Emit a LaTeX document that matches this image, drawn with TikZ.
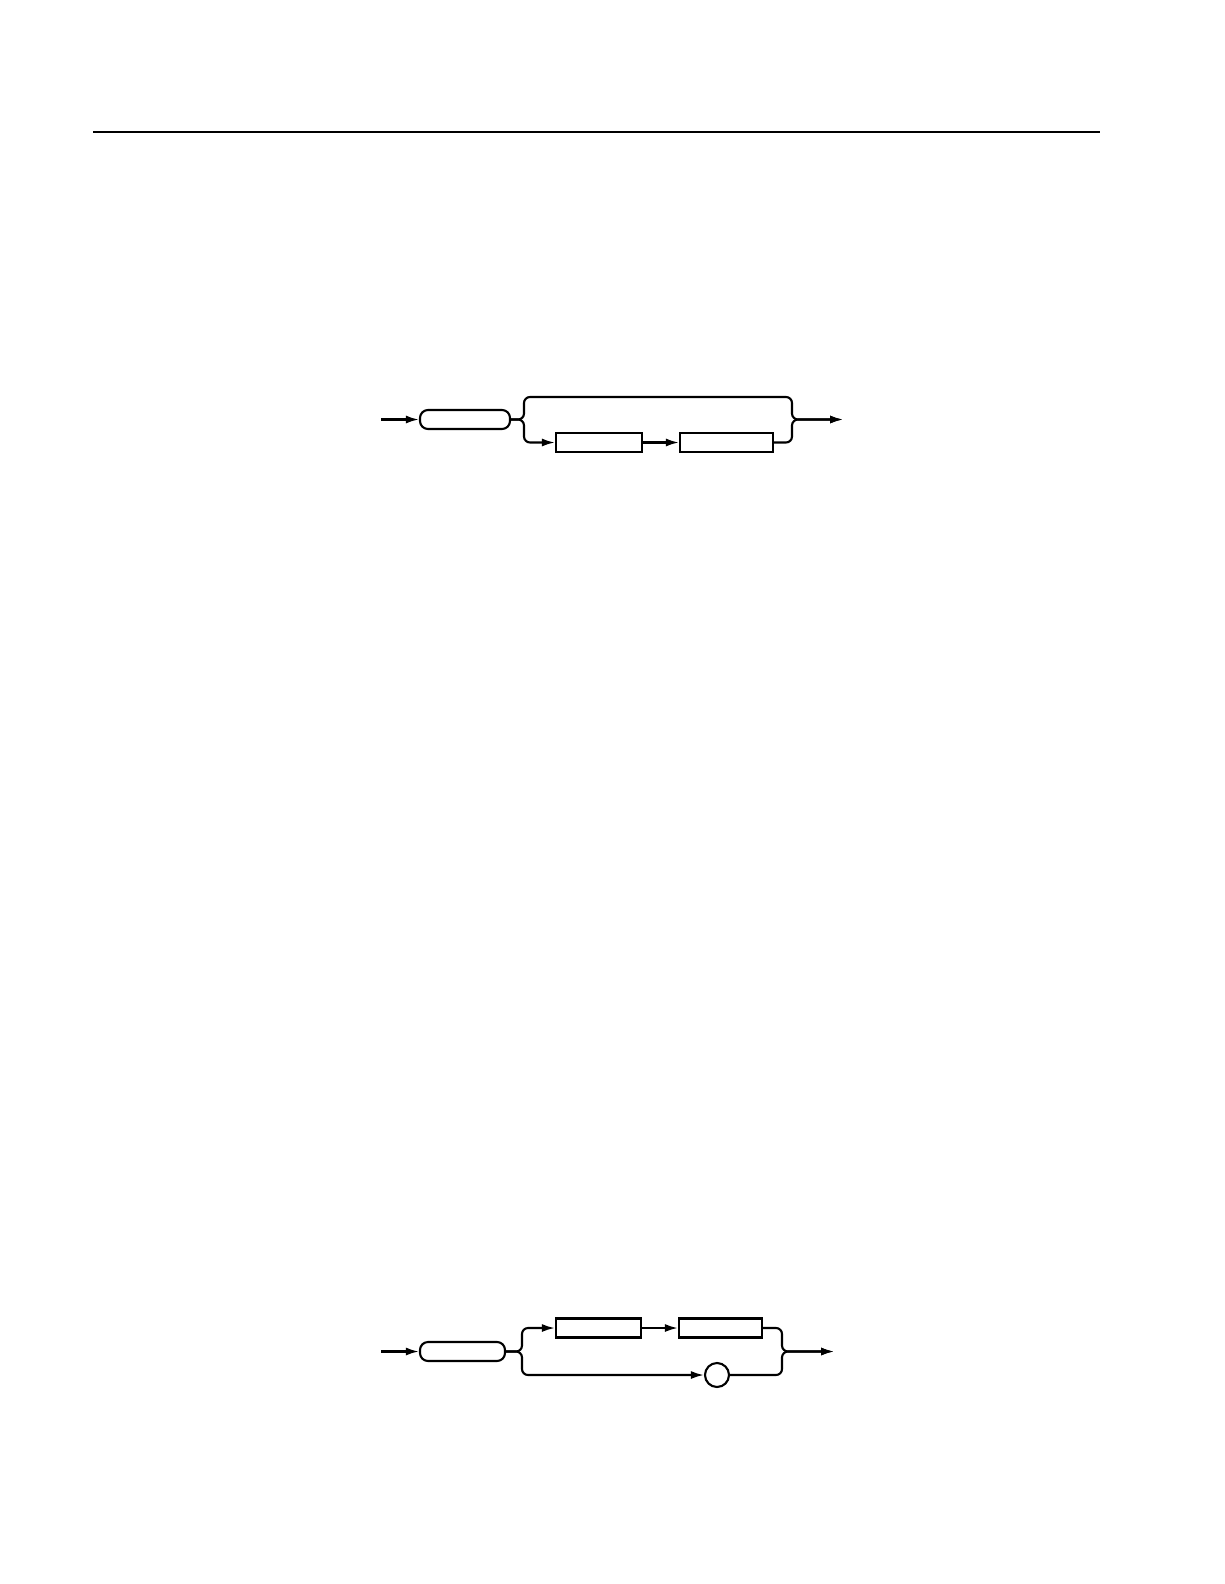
\documentclass[tikz,border=0pt]{standalone}
\usetikzlibrary{arrows.meta}
\begin{document}
\begin{tikzpicture}[x=1pt,y=-1pt,
  wire/.style={line width=2.1pt,rounded corners=6pt},
  arr/.style={wire,-{Latex[length=13pt,width=8pt]}},
  kwbox/.style={draw,line width=2.1pt,rectangle,rounded corners=8pt,inner sep=0pt,minimum height=19pt},
  sqbox/.style={draw,line width=2.1pt,rectangle,inner sep=0pt,minimum height=19pt},
  dot/.style={draw,line width=2.1pt,circle,inner sep=0pt,minimum size=24pt}]
\useasboundingbox (0,0) rectangle (1224,1584);
% top rule
\coordinate (ruleL) at (93,132);
\coordinate (ruleR) at (1100,132);
\draw[line width=1.6pt] (ruleL) -- (ruleR);

% ---------- diagram 1 ----------
\coordinate (in1) at (381,419.5);
\node[kwbox,minimum width=90pt] (kw1) at (465,419.5) {};
\node[sqbox,minimum width=86pt] (a1) at (599,442.5) {};
\node[sqbox,minimum width=93pt] (a2) at (726.5,442.5) {};
\coordinate (bl1) at (524,419.5);
\coordinate (bt1) at (792,397);
\coordinate (br1) at (792,419.5);
\coordinate (out1) at (843,419.5);
\draw[arr] (in1) -- (kw1.west);
\draw[arr] (kw1.east) -- (bl1) |- (bt1) -- (br1) -- (out1);
\draw[arr] (kw1.east) -- (bl1) |- (a1.west);
\draw[arr] (a1.east) -- (a2.west);
\draw[arr] (a2.east) -| (br1) -- (out1);

% ---------- diagram 2 ----------
\coordinate (in2) at (381,1351.5);
\node[kwbox,minimum width=85pt] (kw2) at (462.5,1351.5) {};
\node[sqbox,minimum width=85pt] (c1) at (598.5,1328) {};
\node[sqbox,minimum width=83pt] (c2) at (720.5,1328) {};
\node[dot] (o) at (717,1375) {};
\coordinate (bl2) at (522,1351.5);
\coordinate (br2) at (782,1351.5);
\coordinate (out2) at (834,1351.5);
\draw[arr] (in2) -- (kw2.west);
\draw[arr] (kw2.east) -- (bl2) |- (c1.west);
\draw[arr] (kw2.east) -- (bl2) |- (o.west);
\draw[arr] (c1.east) -- (c2.west);
\draw[arr] (c2.east) -| (br2) -- (out2);
\draw[arr] (o.east) -| (br2) -- (out2);
\end{tikzpicture}
\end{document}
